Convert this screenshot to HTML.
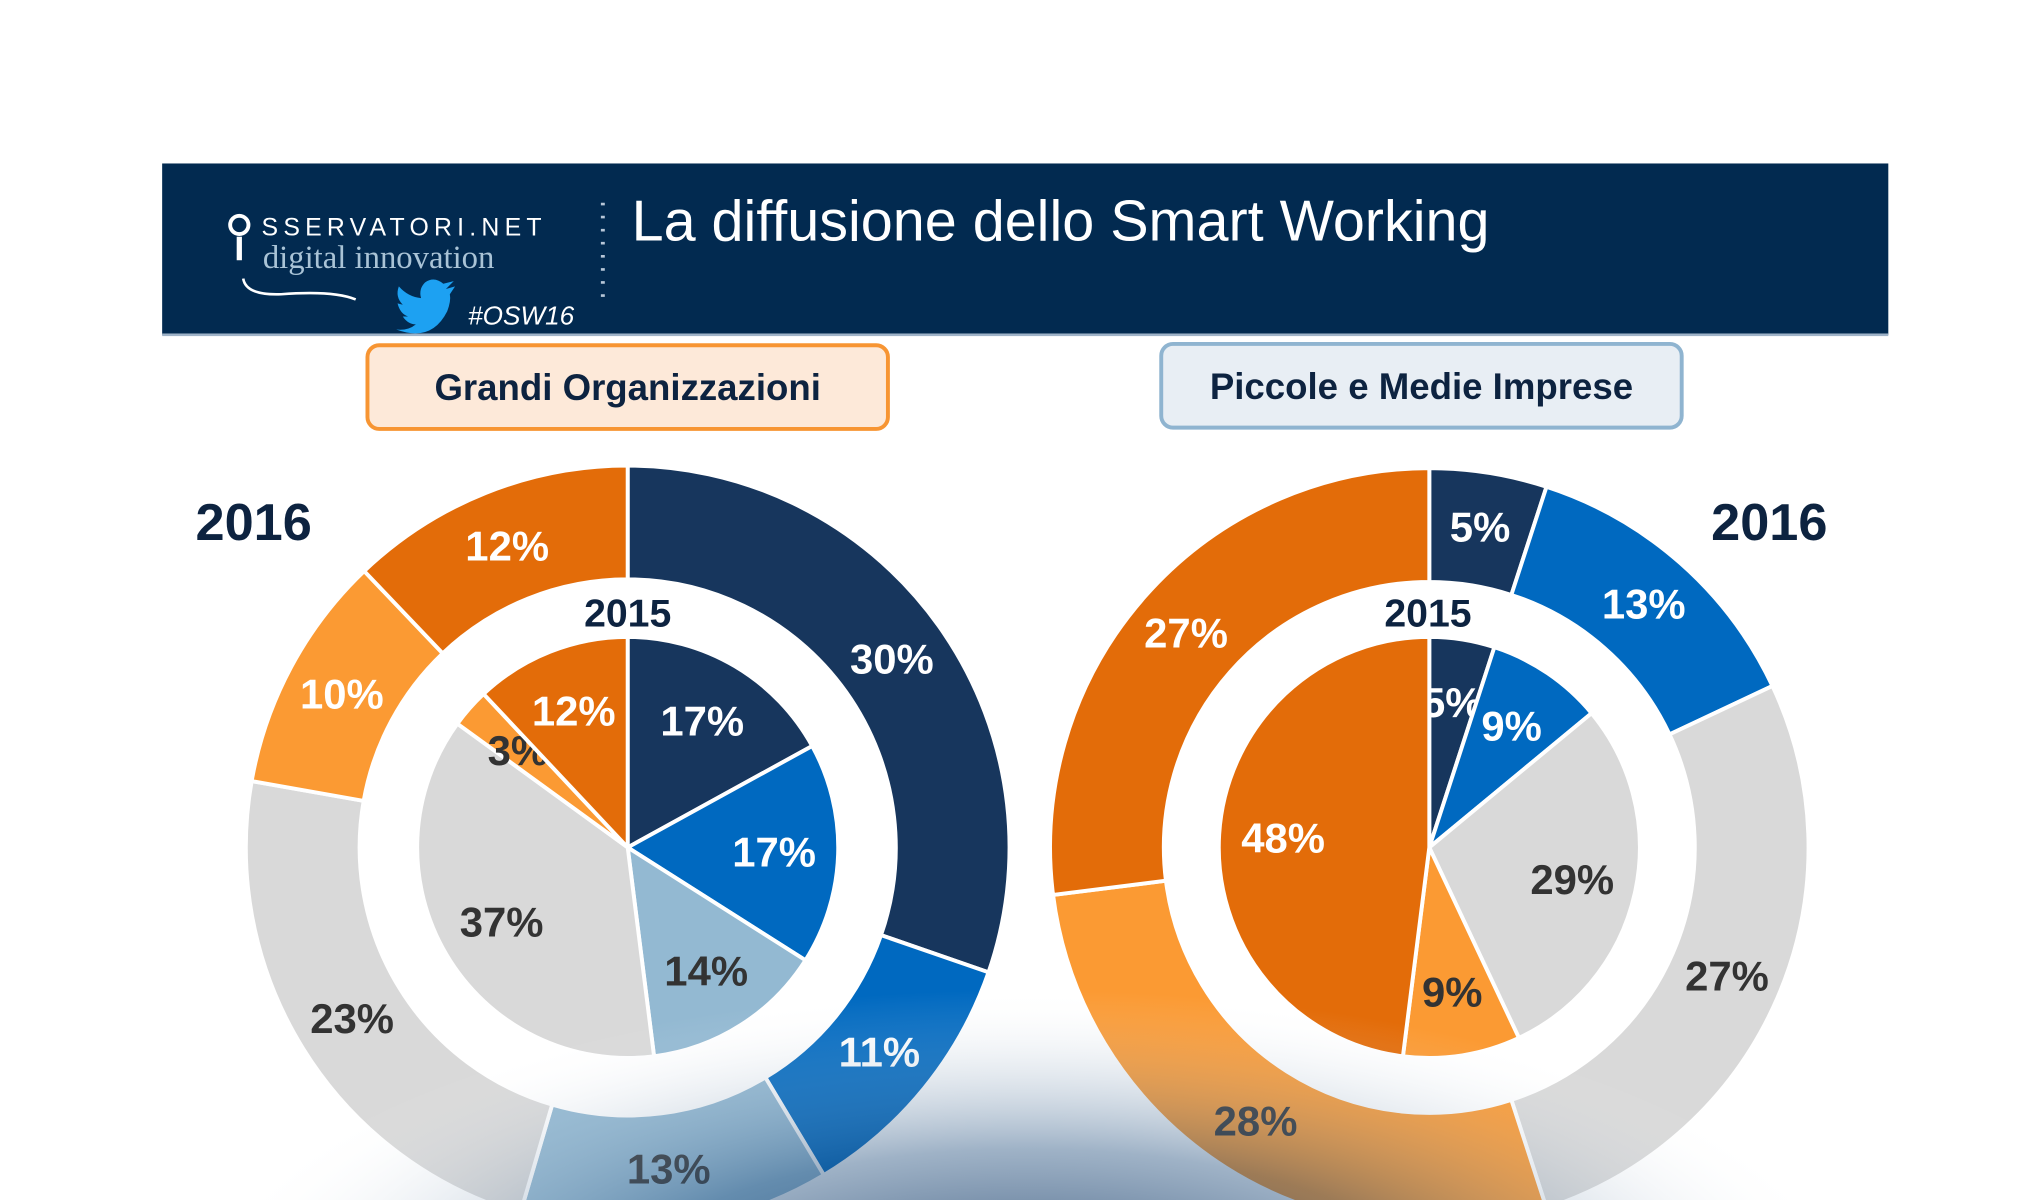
<!DOCTYPE html>
<html><head><meta charset="utf-8"><style>
html,body{margin:0;padding:0;background:#fff;}
svg{display:block;}
text{font-family:"Liberation Sans Narrow","Liberation Sans",sans-serif;font-weight:bold;}
</style></head><body>
<svg id="chart" width="2040" height="1200" viewBox="0 0 1560 917.6" preserveAspectRatio="none" xmlns="http://www.w3.org/2000/svg">
<defs>
<radialGradient id="fade" cx="785" cy="1000" r="640" gradientUnits="userSpaceOnUse" gradientTransform="translate(785 1000) scale(1 0.38) translate(-785 -1000)">
<stop offset="0" stop-color="#0b2b55" stop-opacity="0.85"/>
<stop offset="0.5" stop-color="#2a5582" stop-opacity="0.45"/>
<stop offset="1" stop-color="#ffffff" stop-opacity="0"/>
</radialGradient>
</defs>
<rect x="124" y="125" width="1320" height="131" fill="#022a50"/>
<rect x="124" y="255" width="1320" height="2" fill="#9fb3c8"/>
<g>
<circle cx="183" cy="172" r="7" fill="none" stroke="#fff" stroke-width="3"/>
<rect x="181" y="181" width="4" height="18" fill="#fff"/>
<text x="200" y="180" fill="#fff" font-size="19" letter-spacing="4" style="font-family:'Liberation Sans',sans-serif;font-weight:normal">SSERVATORI.NET</text>
<text x="201" y="205" fill="#a9c3d6" font-size="25" style="font-family:'Liberation Serif',serif;font-weight:normal">digital innovation</text>
<path d="M186 213 Q188 226 215 225 Q255 222 272 229" fill="none" stroke="#fff" stroke-width="2"/>
</g>
<line x1="461" y1="155" x2="461" y2="232" stroke="#b8c7d8" stroke-width="3" stroke-dasharray="2 8"/>
<path d="M348 219 L341 221 L347 215 L339 217 Q332 211 325 216 Q320 221 322 228 Q312 227 305 219 Q302 227 308 233 L304 232 Q306 240 312 242 L308 242 Q312 248 318 248 Q312 253 303 252 Q330 262 342 238 Q345 230 344 225 Z" fill="#1da1f2"/>
<text x="358" y="248" fill="#fff" font-size="20" font-style="italic" style="font-weight:normal">#OSW16</text>
<text x="483" y="184" fill="#fff" font-size="44" style="font-family:'Liberation Sans',sans-serif;font-weight:normal">La diffusione dello Smart Working</text>
<rect x="281" y="264" width="398" height="64" rx="9" fill="#fde9d9" stroke="#f79533" stroke-width="3"/>
<text x="480" y="306" text-anchor="middle" fill="#0d2340" font-size="28" style="font-family:'Liberation Sans',sans-serif">Grandi Organizzazioni</text>
<rect x="888" y="263" width="398" height="64" rx="9" fill="#e8eef4" stroke="#8fb4d0" stroke-width="3"/>
<text x="1087" y="305" text-anchor="middle" fill="#0d2340" font-size="28" style="font-family:'Liberation Sans',sans-serif">Piccole e Medie Imprese</text>
<text x="194" y="413" text-anchor="middle" fill="#0d2340" font-size="40">2016</text>
<text x="1353" y="413" text-anchor="middle" fill="#0d2340" font-size="40">2016</text>
<text x="480" y="479" text-anchor="middle" fill="#0d2340" font-size="30">2015</text>
<text x="1092" y="479" text-anchor="middle" fill="#0d2340" font-size="30">2015</text>
<g id="marks"></g>
<rect x="0" y="640" width="1560" height="280" fill="url(#fade)"/>
</svg>
<script>
const categories = ["navy","blue","lightblue","gray","lightorange","orange"];
const largeOrg2016 = [30, 11, 13, 23, 10, 12];
const largeOrg2015 = [17, 17, 14, 37, 3, 12];
const sme2016 = [5, 13, 0, 27, 28, 27];
const sme2015 = [5, 9, 0, 29, 9, 48];
const colors = {navy:"#17365d",blue:"#0069c0",lightblue:"#93b9d2",gray:"#d9d9d9",lightorange:"#fb9a33",orange:"#e36c09"};
const textColors = {navy:"#fff",blue:"#fff",lightblue:"#333",gray:"#333",lightorange:"#fff",orange:"#fff"};
const NS = "http://www.w3.org/2000/svg";
const marks = document.getElementById('marks');
function pt(cx, cy, r, frac){const a = frac*2*Math.PI; return [cx + r*Math.sin(a), cy - r*Math.cos(a)];}
function drawRing(values, cx, cy, r0, r1, labelR, name, darkLight){
  const total = values.reduce((a,b)=>a+b,0);
  let acc = 0;
  values.forEach((v,i)=>{
    if(!v) return;
    const f0 = acc/total, f1 = (acc+v)/total; acc += v;
    const large = (f1-f0) > 0.5 ? 1 : 0;
    const [x0,y0] = pt(cx,cy,r1,f0), [x1,y1] = pt(cx,cy,r1,f1);
    let d;
    if(r0 > 0){
      const [x2,y2] = pt(cx,cy,r0,f1), [x3,y3] = pt(cx,cy,r0,f0);
      d = `M${x0} ${y0} A${r1} ${r1} 0 ${large} 1 ${x1} ${y1} L${x2} ${y2} A${r0} ${r0} 0 ${large} 0 ${x3} ${y3} Z`;
    } else {
      d = `M${cx} ${cy} L${x0} ${y0} A${r1} ${r1} 0 ${large} 1 ${x1} ${y1} Z`;
    }
    const p = document.createElementNS(NS,'path');
    p.setAttribute('d', d);
    p.setAttribute('fill', colors[categories[i]]);
    p.setAttribute('stroke', '#fff');
    p.setAttribute('stroke-width', '3');
    
    
    marks.appendChild(p);
    const [lx,ly] = pt(cx,cy,labelR,(f0+f1)/2);
    const t = document.createElementNS(NS,'text');
    t.setAttribute('x', lx);
    t.setAttribute('y', ly + 11);
    t.setAttribute('text-anchor', 'middle');
    t.setAttribute('font-size', '32');
    let tc = textColors[categories[i]];
    if(darkLight && categories[i]==='lightorange') tc = '#333';
    t.setAttribute('fill', tc);
    t.textContent = v + '%';
    
    
    marks.appendChild(t);
  });
}
drawRing(largeOrg2016, 480, 648, 205, 292, 248, 'large-2016', false);
drawRing(largeOrg2015, 480, 648, 0, 161, 112, 'large-2015', true);
drawRing(sme2016, 1093, 648, 203, 290, 248, 'sme-2016', true);
drawRing(sme2015, 1093, 648, 0, 161, 112, 'sme-2015', true);
</script>
</body></html>
